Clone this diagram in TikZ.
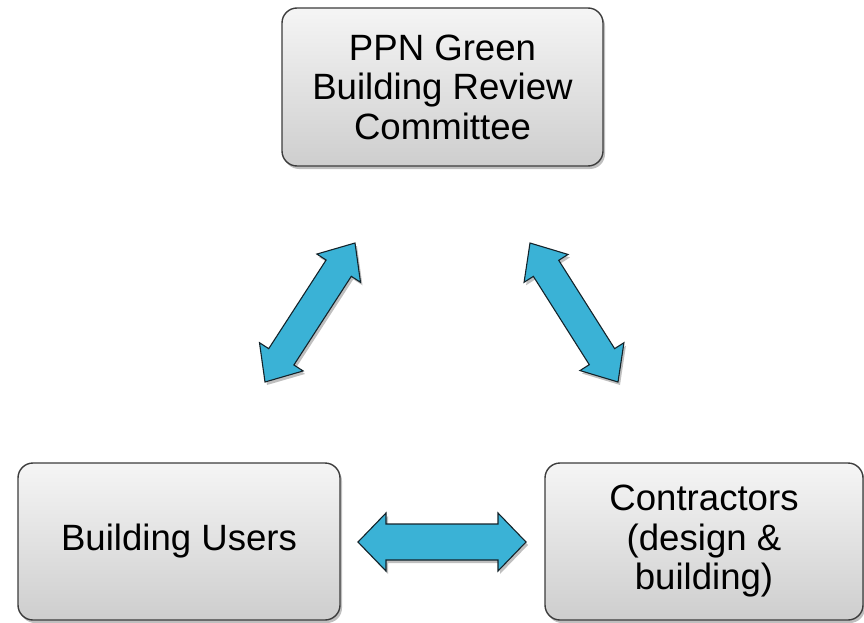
\documentclass[tikz,border=0pt]{standalone}
\usepackage{fontspec}
\setmainfont{Liberation Sans}
\usetikzlibrary{calc,shadows}
\definecolor{boxtop}{RGB}{245,245,245}
\definecolor{boxbot}{RGB}{206,206,206}
\definecolor{boxline}{RGB}{60,60,60}
\definecolor{arrfill}{RGB}{58,178,214}
\definecolor{arrline}{RGB}{20,35,42}
\tikzset{
  box/.style={draw=boxline, line width=1.4pt, rounded corners=15pt,
    top color=boxtop, bottom color=boxbot, align=center, inner sep=0pt,
    font=\fontsize{36.6}{39.5}\selectfont,
    drop shadow={shadow xshift=2pt, shadow yshift=-3pt, opacity=0.25, fill=black}},
  arrowstyle/.style={fill=arrfill, draw=arrline, line width=1.1pt, line join=miter,
    drop shadow={shadow xshift=2pt, shadow yshift=-3pt, opacity=0.25, fill=black}}
}
\newcommand\dblarr[5]{%
  \draw[arrowstyle] (#1)
   -- ($(#1)!#5!(#2)!#4!90:(#2)$)
   -- ($(#1)!#5!(#2)!#3!90:(#2)$)
   -- ($(#2)!#5!(#1)!#3!-90:(#1)$)
   -- ($(#2)!#5!(#1)!#4!-90:(#1)$)
   -- (#2)
   -- ($(#2)!#5!(#1)!#4!90:(#1)$)
   -- ($(#2)!#5!(#1)!#3!90:(#1)$)
   -- ($(#1)!#5!(#2)!#3!-90:(#2)$)
   -- ($(#1)!#5!(#2)!#4!-90:(#2)$)
   -- cycle;}
\begin{document}
\begin{tikzpicture}[x=1pt,y=-1pt]
\useasboundingbox (0,0) rectangle (864,623);
\node[box, minimum width=321pt, minimum height=158pt] (ppn) at (442.5,87)
  {PPN Green\\Building Review\\Committee};
\node[box, minimum width=322pt, minimum height=157pt] (users) at (179,541.5)
  {Building Users};
\node[box, minimum width=318pt, minimum height=157pt] (contr) at (704,541.5)
  {Contractors\\(design \&\\building)};
\coordinate (l1) at (265,382);
\coordinate (l2) at (355,243);
\coordinate (r1) at (530,243);
\coordinate (r2) at (618,382);
\coordinate (h1) at (358,542);
\coordinate (h2) at (526,542);
\dblarr{l1}{l2}{15pt}{26pt}{30pt}
\dblarr{r1}{r2}{15pt}{26pt}{30pt}
\dblarr{h1}{h2}{18pt}{29pt}{28pt}
\end{tikzpicture}
\end{document}
